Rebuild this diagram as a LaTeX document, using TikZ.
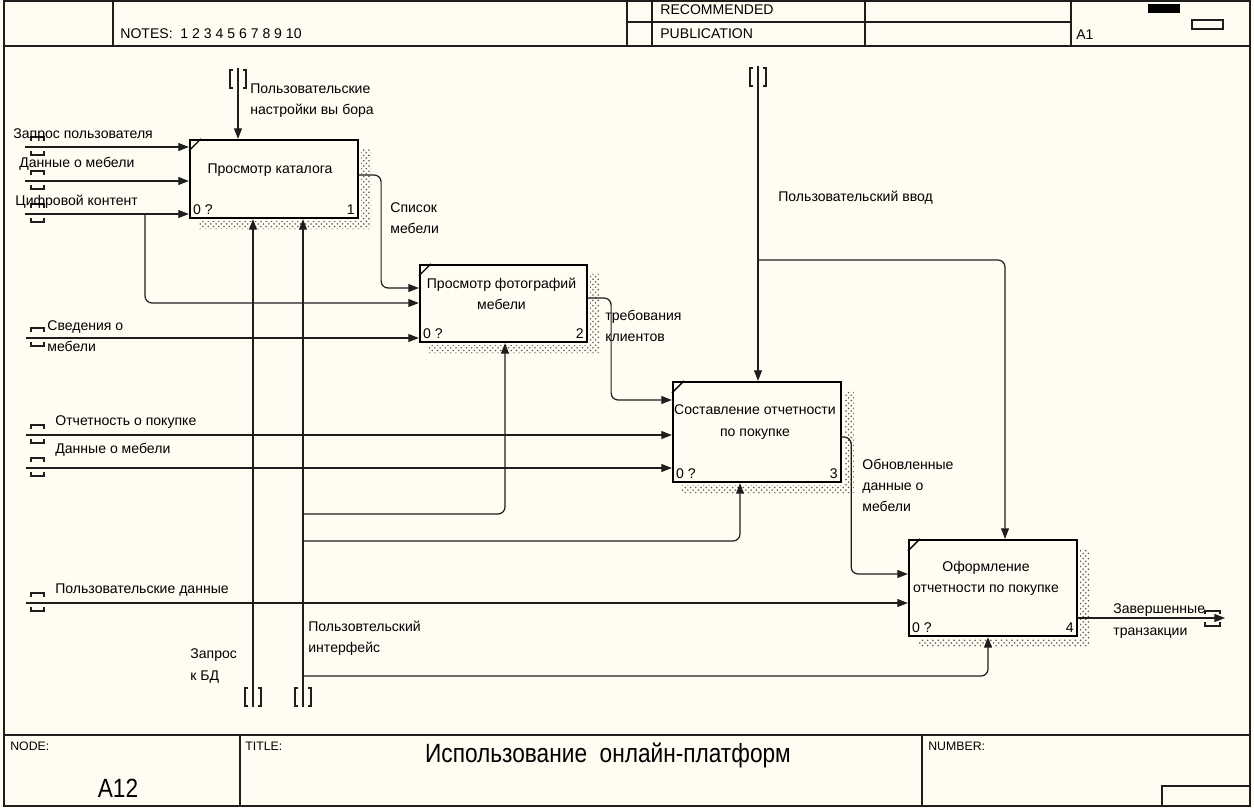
\documentclass[tikz,border=0pt]{standalone}
\usepackage{fontspec}
\setmainfont{Liberation Sans}
\newfontfamily\narrowsans[FakeStretch=0.86]{Liberation Sans}
\usetikzlibrary{positioning, arrows.meta, patterns, calc}
\definecolor{paper}{HTML}{FFFCF2}
\definecolor{wire}{HTML}{1E1E1E}

\begin{document}
\begin{tikzpicture}[
  x=0.02cm, y=-0.02cm, >={Triangle[length=6pt,width=4.5pt]},
  font=\fontsize{8}{12}\selectfont,
  fbox/.style={draw, line width=1.3pt, fill=paper, minimum width=3.36cm, inner sep=0pt},
  btxt/.style={align=center, inner sep=0pt},
  lbl/.style={anchor=west, align=left, inner sep=0pt},
  arr/.style={->, line width=0.7pt, draw=wire, rounded corners=4pt},
  tun/.style={line width=0.6pt, draw=wire},
  shade/.style={pattern=crosshatch dots, pattern color=black!65},
  frm/.style={line width=0.8pt, draw=wire},
  tiny/.style={font=\fontsize{7}{8}\selectfont, inner sep=0pt, anchor=west}
]
\useasboundingbox (0,0) rectangle (1254,809);
\fill[paper] (0,0) rectangle (1254,809);

% frame
\draw[frm] (4,1) rectangle (1250,806);
\draw[frm] (4,46) -- (1250,46);
\foreach \x in {113,627,652,865,1071} \draw[frm] (\x,1) -- (\x,46);
\draw[frm] (627,22) -- (1071,22);
\draw[frm] (4,735) -- (1250,735);
\foreach \x in {240,922} \draw[frm] (\x,735) -- (\x,806);
\draw[frm] (1162,786) rectangle (1250,806);
\fill (1148,4) rectangle (1180,13);
\draw[frm] (1192,20) rectangle (1223,29);

\node[tiny, font=\fontsize{8}{9}\selectfont] (notes) at (120,34) {NOTES:\ \ 1\ 2\ 3\ 4\ 5\ 6\ 7\ 8\ 9\ 10};
\node[tiny, font=\fontsize{8}{9}\selectfont] (recom) at (660,10) {RECOMMENDED};
\node[tiny, font=\fontsize{8}{9}\selectfont] (publ) at (660,34) {PUBLICATION};
\node[tiny, font=\fontsize{8}{9}\selectfont] (aone) at (1076,35) {A1};
\node[tiny] (nodelbl) at (10,746) {NODE:};
\node[tiny] (titlelbl) at (245,746) {TITLE:};
\node[tiny] (numlbl) at (928,746) {NUMBER:};
\node[font=\narrowsans\fontsize{15}{17}\selectfont, inner sep=0pt] (nodenum) at (118,788) {A12};
\node[font=\narrowsans\fontsize{15}{17}\selectfont, inner sep=0pt] (title) at (608,755) {Использование\ \ онлайн-платформ};

% activities
\node[fbox, minimum height=1.56cm] (b1) at (274,179) {};
\node[fbox, minimum height=1.54cm, minimum width=3.34cm] (b2) at (503.5,303.5) {};
\node[fbox, minimum height=2cm] (b3) at (757,432) {};
\node[fbox, minimum height=1.92cm] (b4) at (993,588) {};

\foreach \b/\n in {b1/1, b2/2, b3/3, b4/4} {
  \fill[shade] ([shift={(2,10)}]\b.north east) -- ([shift={(12,10)}]\b.north east)
    -- ([shift={(12,10)}]\b.south east) -- ([shift={(10,10)}]\b.south west)
    -- ([shift={(10,2)}]\b.south west) -- ([shift={(2,2)}]\b.south east) -- cycle;
  \draw[line width=0.8pt] ([xshift=0.24cm]\b.north west) -- ([yshift=-0.24cm]\b.north west);
  \node[anchor=south west, inner sep=0pt] (\b-l) at ([shift={(4,-4)}]\b.south west) {0 ?};
  \node[anchor=south east, inner sep=0pt] (\b-r) at ([shift={(-4,-4)}]\b.south east) {\n};
}

\node[btxt] (t1) at ([shift={(-4,-9)}]b1.center) {Просмотр каталога};
\node[btxt] (t2) at ([shift={(-2,-10)}]b2.center) {Просмотр фотографий\\мебели};
\node[btxt] (t3) at ([shift={(-2,-10)}]b3.center) {Составление отчетности\\по покупке};
\node[btxt] (t4) at ([shift={(-7,-10)}]b4.center) {Оформление\\отчетности по покупке};

% free ends
\coordinate (inA) at (25,147);
\coordinate (inB) at (25,181);
\coordinate (inC) at (25,214);
\coordinate (brC) at (145,214);
\coordinate (inD) at (26,338);
\coordinate (inE) at (26,435);
\coordinate (inF) at (26,468);
\coordinate (inG) at (26,603);
\coordinate (ctA) at (238,68);
\coordinate (ctB) at (758,66);
\coordinate (mcA) at (253,707);
\coordinate (mcB) at (303,707);
\coordinate (outE) at (1225,618);

% inputs
\draw[arr] (inA) -- (inA -| b1.west);
\draw[arr] (inB) -- (inB -| b1.west);
\draw[arr] (inC) -- (inC -| b1.west);
\draw[arr] (brC) |- (b2.west |- 0,303);
\draw[arr] (inD) -- (inD -| b2.west);
\draw[arr] (inE) -- (inE -| b3.west);
\draw[arr] (inF) -- (inF -| b3.west);
\draw[arr] (inG) -- (inG -| b4.west);

% outputs
\draw[arr] (b1.east |- 0,175) -- ++(22,0) |- (b2.west |- 0,288);
\draw[arr] (b2.east |- 0,298) -- ++(23,0) |- (b3.west |- 0,400);
\draw[arr] (b3.east |- 0,437) -- ++(9,0) |- (b4.west |- 0,574);
\draw[arr] (b4.east |- 0,618) -- (outE);

% controls
\draw[arr] (ctA) -- (ctA |- b1.north);
\draw[arr] (ctB) -- (ctB |- b3.north);
\draw[arr] (ctB |- 0,260) -| (b4.north -| 1005,0);

% mechanisms
\draw[arr] (mcA) -- (mcA |- b1.south);
\draw[arr] (mcB) -- (mcB |- b1.south);
\draw[arr] (mcB |- 0,514) -| (b2.south -| 505,0);
\draw[arr] (mcB |- 0,541) -| (b3.south -| 740,0);
\draw[arr] (mcB |- 0,676) -| (b4.south -| 988,0);

% tunnels
\foreach \x/\y in {238/79, 758/77, 253/697, 303/697} {
  \draw[tun] (\x-5,\y-9) -- ++(-3,0) -- ++(0,18) -- ++(3,0);
  \draw[tun] (\x+5,\y-9) -- ++(3,0) -- ++(0,18) -- ++(-3,0);
}
\foreach \y in {147,181,214,338,435,468,603} {
  \draw[tun] (31,\y-6) -- ++(0,-4) -- ++(13,0) -- ++(0,4);
  \draw[tun] (31,\y+4) -- ++(0,4) -- ++(13,0) -- ++(0,-4);
}
\draw[tun] (1205,614) -- ++(0,-3) -- ++(15,0) -- ++(0,3);
\draw[tun] (1205,622) -- ++(0,4) -- ++(15,0) -- ++(0,-4);

% arrow labels
\node[lbl] (lA) at (13,135) {Запрос пользователя};
\node[lbl] (lB) at (19,164) {Данные о мебели};
\node[lbl] (lC) at (15,202) {Цифровой контент};
\node[lbl] (lCtA) at (250,101) {Пользовательские\\настройки вы бора};
\node[lbl] (lO1) at (390,218) {Список\\мебели};
\node[lbl] (lCtB) at (778,198) {Пользовательский ввод};
\node[lbl] (lO2) at (605,326) {требования\\клиентов};
\node[lbl] (lD) at (47,336) {Сведения о\\мебели};
\node[lbl] (lE) at (55,422) {Отчетность о покупке};
\node[lbl] (lF) at (55,450) {Данные о мебели};
\node[lbl] (lO3) at (862,485) {Обновленные\\данные о\\мебели};
\node[lbl] (lG) at (55,590) {Пользовательские данные};
\node[lbl] (lMcB) at (308,638) {Пользовтельский\\интерфейс};
\node[lbl] (lMcA) at (190,666) {Запрос\\к БД};
\node[lbl] (lO4) at (1113,621) {Завершенные\\транзакции};

\end{tikzpicture}
\end{document}
